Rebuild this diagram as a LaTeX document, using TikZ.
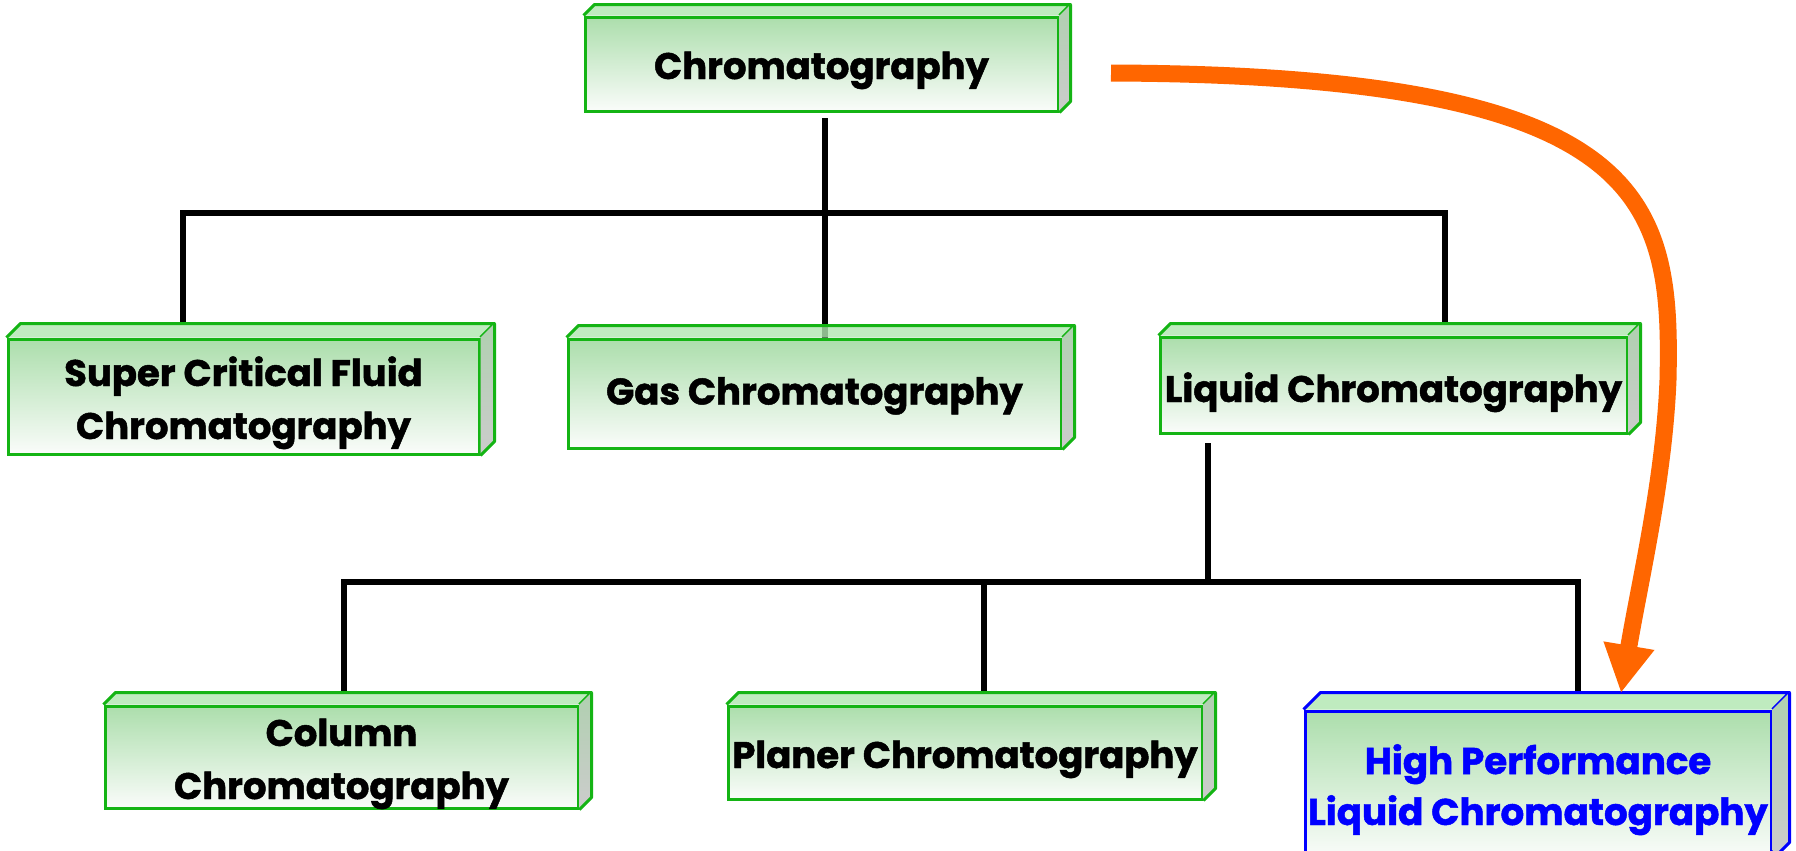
\documentclass[tikz,border=0pt]{standalone}
\usepackage{fontspec}
\newfontfamily\boxfont{Poppins}[UprightFont=* Bold,FakeBold=1.3]
\usetikzlibrary{arrows.meta}
\pgfdeclarelayer{bg}
\pgfsetlayers{bg,main}
\definecolor{boxgreen}{RGB}{20,180,20}
\definecolor{hplcblue}{RGB}{0,0,255}
\definecolor{facetop}{RGB}{172,222,172}
\definecolor{facebot}{RGB}{250,252,250}
\definecolor{topside}{RGB}{176,230,176}
\definecolor{sidetop}{RGB}{176,208,176}
\definecolor{sidebot}{RGB}{204,204,204}
\definecolor{arroworange}{RGB}{255,102,0}
\newcommand\depthfaces[3]{%
  \fill[topside,fill opacity=0.8] (#1.north west) -- ++(#2,-#2) -- ([shift={(#2,-#2)}]#1.north east) -- (#1.north east) -- cycle;
  \draw[#3,line width=1.5pt,line join=round] (#1.north west) -- ++(#2,-#2) -- ([shift={(#2,-#2)}]#1.north east) -- (#1.north east);
  \shade[top color=sidetop,bottom color=sidebot] (#1.north east) -- ++(#2,-#2) -- ([shift={(#2,-#2)}]#1.south east) -- (#1.south east) -- cycle;
  \draw[#3,line width=1.5pt,line join=round] ([shift={(#2,-#2)}]#1.north east) -- ([shift={(#2,-#2)}]#1.south east) -- (#1.south east);
}
\newcommand\oneline[2]{\raisebox{-#1}[0pt][0pt]{#2}}
\newcommand\twolines[3]{\raisebox{-#1}[0pt][0pt]{\begin{tabular}[b]{@{}c@{}}#2\\#3\end{tabular}}}
\begin{document}
\begin{tikzpicture}[x=0.5pt,y=-0.5pt,
  frontbox/.style={draw=boxgreen,line width=1.5pt,top color=facetop,bottom color=facebot,
    inner sep=0pt,font=\boxfont\fontsize{18.5}{26.5}\selectfont,text=black},
  hplcbox/.style={frontbox,draw=hplcblue,text=hplcblue,font=\boxfont\fontsize{18.6}{25.5}\selectfont},
  link/.style={line width=3.2pt,black,line join=miter},
  bigarrow/.style={line width=8.5pt,arroworange,-{Triangle[length=24pt,width=24pt]}}]
\clip (0,0) rectangle (1796,851);
\begin{pgfonlayer}{bg}
\fill[white] (0,0) rectangle (1796,851);
\end{pgfonlayer}

\node[frontbox,minimum width=236.5pt,minimum height=47pt] (chrom) at (821.5,64) {\oneline{7.5pt}{Chromatography}};
\node[frontbox,minimum width=235.5pt,minimum height=57.5pt] (scf) at (243.5,396.5) {\twolines{21.25pt}{Super Critical Fluid}{Chromatography}};
\node[frontbox,minimum width=246.5pt,minimum height=54.5pt] (gas) at (814.5,393.5) {\oneline{5.5pt}{Gas Chromatography}};
\node[frontbox,minimum width=233.5pt,minimum height=48pt] (liquid) at (1393.5,385) {\oneline{8.5pt}{Liquid Chromatography}};
\node[frontbox,minimum width=236.5pt,minimum height=51pt] (column) at (341.5,757) {\twolines{21pt}{Column}{Chromatography}};
\node[frontbox,minimum width=237pt,minimum height=46.5pt] (planer) at (965,752.5) {\oneline{7.75pt}{Planer Chromatography}};
\node[hplcbox,minimum width=233pt,minimum height=73.5pt] (hplc) at (1538,784.5) {\twolines{20.25pt}{High Performance}{Liquid Chromatography}};

\depthfaces{chrom}{11}{boxgreen}
\depthfaces{scf}{14}{boxgreen}
\depthfaces{gas}{12}{boxgreen}
\depthfaces{liquid}{12}{boxgreen}
\depthfaces{column}{12}{boxgreen}
\depthfaces{planer}{12}{boxgreen}
\depthfaces{hplc}{17}{hplcblue}

\coordinate (t0) at (825,118);
\coordinate (t1) at (825,342);
\coordinate (a1) at (183,324);
\coordinate (a2) at (183,213);
\coordinate (a3) at (1445,213);
\coordinate (a4) at (1445,324);
\coordinate (l0) at (1208,443);
\coordinate (l1) at (1208,582);
\coordinate (b1) at (344,694);
\coordinate (b2) at (344,582);
\coordinate (b3) at (1578,582);
\coordinate (b4) at (1578,694);
\coordinate (m1) at (984,582);
\coordinate (m2) at (984,694);

\begin{pgfonlayer}{bg}
\draw[link] (t0) -- (t1);
\draw[link] (a1) -- (a2) -- (a3) -- (a4);
\draw[link] (l0) -- (l1);
\draw[link] (b1) -- (b2) -- (b3) -- (b4);
\draw[link] (m1) -- (m2);
\end{pgfonlayer}

\coordinate (o1) at (1111,73);
\coordinate (o2) at (1621,693);
\draw[bigarrow] (o1) .. controls (1650,75) and (1672,200) .. (1668,380) .. controls (1664,480) and (1640,580) .. (o2);
\end{tikzpicture}
\end{document}
